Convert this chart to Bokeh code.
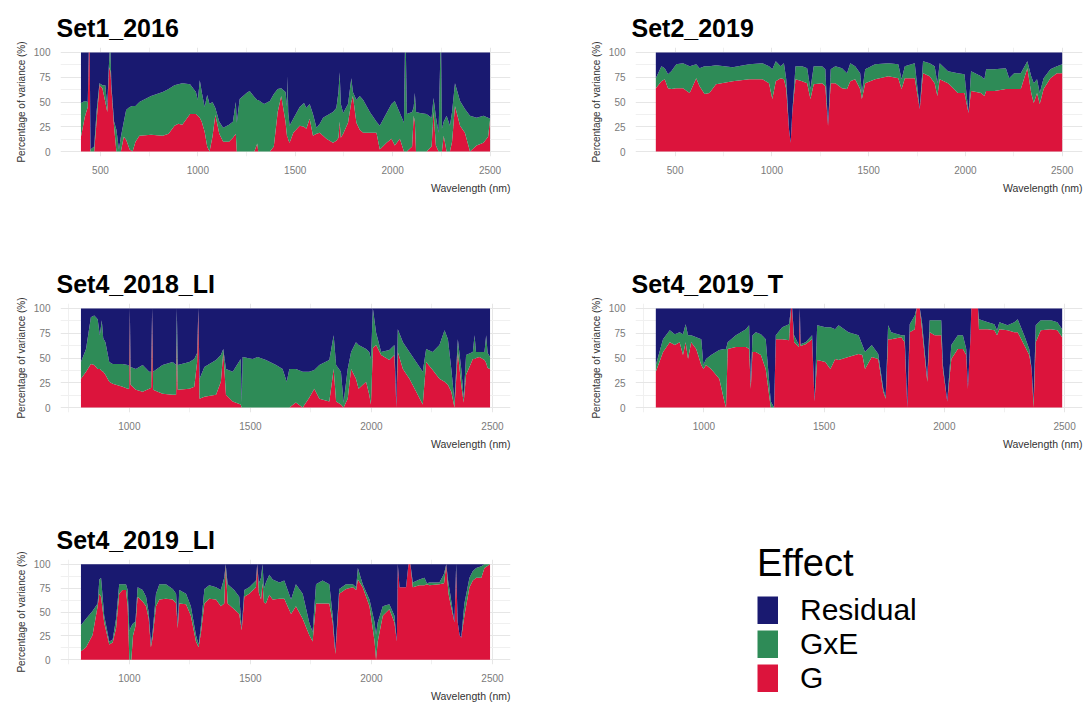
from bokeh.plotting import figure
from bokeh.layouts import row, column
from bokeh.models import ColumnDataSource, FixedTicker, Title, Legend, LegendItem, Range1d
from bokeh.embed import file_html
from bokeh.resources import INLINE

# ---------------- data (percentage of variance) ----------------
effects = ["G", "GxE", "Residual"]
effect_colors = ["#DC143C", "#2E8B57", "#191970"]
legend_order = ["Residual", "GxE", "G"]

set1_wl = [400, 420, 435, 440, 445, 449, 468, 480, 495, 510,
           525, 535, 543, 547, 552, 556, 570, 582, 595, 605,
           620, 632, 650, 665, 680, 700, 760, 820, 850, 880,
           900, 920, 960, 990, 1000, 1010, 1020, 1035, 1048, 1060,
           1075, 1090, 1110, 1130, 1160, 1180, 1195, 1200, 1215, 1250,
           1266, 1290, 1305, 1310, 1340, 1370, 1390, 1410, 1428, 1450,
           1458, 1461, 1464, 1471, 1490, 1523, 1545, 1557, 1574, 1591,
           1609, 1626, 1643, 1660, 1694, 1711, 1722, 1728, 1734, 1746,
           1771, 1788, 1796, 1814, 1831, 1849, 1866, 1883, 1917, 1934,
           1969, 1994, 2011, 2037, 2058, 2063, 2068, 2073, 2100, 2108,
           2114, 2120, 2140, 2174, 2200, 2210, 2222, 2236, 2245, 2249,
           2253, 2262, 2277, 2294, 2305, 2320, 2346, 2371, 2397, 2431,
           2466, 2490, 2500]
set1_g = [15, 35, 45, 100, 100, 0, 0, 30, 67, 64,
          50, 40, 80, 85, 80, 65, 25, 0, 0, 0,
          15, 12, 2, 0, 10, 16, 17, 16, 18, 26,
          28, 27, 38, 38, 36, 34, 30, 20, 5, 0,
          15, 37, 18, 10, 10, 14, 18, 0, 0, 0,
          0, 0, 8, 0, 0, 0, 5, 40, 56, 30,
          15, 15, 12, 9, 19, 26, 25, 23, 33, 16,
          18, 19, 16, 13, 9, 11, 14, 30, 14, 18,
          29, 50, 56, 29, 22, 19, 19, 19, 19, 2,
          9, 13, 6, 13, 0, 0, 0, 0, 5, 36,
          30, 0, 0, 0, 5, 40, 6, 0, 0, 0,
          0, 16, 0, 0, 10, 46, 26, 19, 0, 6,
          9, 15, 32]
set1_gxe = [34, 16, 5, 0, 0, 2, 5, 10, 2, 3,
            17, 5, 5, 15, 20, 3, 5, 22, 2, 15,
            15, 30, 43, 46, 36, 34, 39, 44, 45, 41,
            40, 42, 30, 22, 16, 38, 30, 25, 52, 48,
            35, 7, 12, 14, 17, 16, 32, 29, 53, 59,
            61, 55, 44, 52, 48, 51, 53, 23, 8, 30,
            30, 61, 28, 17, 14, 19, 24, 21, 15, 22,
            6, 9, 18, 23, 31, 33, 46, 50, 34, 21,
            19, 24, 4, 23, 34, 33, 27, 21, 11, 24,
            30, 35, 45, 26, 29, 100, 100, 38, 35, 9,
            29, 40, 39, 38, 29, 14, 29, 19, 100, 100,
            23, 14, 36, 26, 30, 23, 25, 24, 36, 28,
            27, 19, 1]

set2_wl = [400, 429, 446, 463, 480, 506, 540, 575, 609, 626,
           652, 677, 711, 797, 883, 951, 985, 1002, 1020, 1045,
           1062, 1074, 1088, 1097, 1105, 1122, 1156, 1182, 1199, 1216,
           1259, 1276, 1290, 1304, 1328, 1362, 1388, 1405, 1430, 1456,
           1465, 1482, 1533, 1602, 1653, 1670, 1687, 1738, 1764, 1781,
           1815, 1841, 1855, 1867, 1910, 1961, 1995, 2016, 2029, 2081,
           2098, 2107, 2150, 2209, 2226, 2252, 2286, 2320, 2340, 2353,
           2370, 2384, 2404, 2439, 2473, 2500]
set2_g = [64, 71, 73, 64, 63, 64, 64, 59, 74, 66,
          58, 59, 68, 71, 73, 73, 69, 53, 71, 74,
          73, 63, 23, 9, 39, 73, 71, 69, 53, 68,
          69, 66, 26, 69, 69, 64, 63, 71, 73, 63,
          53, 69, 73, 76, 74, 63, 74, 74, 43, 79,
          76, 69, 56, 73, 69, 59, 59, 39, 61, 59,
          56, 61, 61, 63, 63, 63, 63, 84, 59, 49,
          59, 48, 63, 74, 79, 79]
set2_gxe = [10, 15, 11, 14, 18, 24, 25, 27, 14, 18,
            28, 27, 19, 14, 15, 16, 17, 30, 20, 12,
            16, 10, 0, 0, 0, 13, 15, 15, 10, 18,
            17, 17, 0, 14, 17, 20, 16, 18, 13, 16,
            6, 14, 15, 13, 14, 10, 12, 15, 0, 12,
            13, 17, 13, 16, 12, 20, 19, 0, 20, 17,
            17, 22, 22, 21, 11, 16, 16, 7, 17, 20,
            14, 11, 11, 9, 7, 9]

set4_2018_li_wl = [800, 821, 841, 855, 869, 878, 886, 892, 901, 917,
                   931, 972, 993, 999, 1002, 1005, 1027, 1055, 1082, 1090,
                   1094, 1098, 1137, 1179, 1193, 1196, 1200, 1248, 1268, 1280,
                   1285, 1290, 1310, 1358, 1378, 1388, 1399, 1427, 1460, 1464,
                   1468, 1509, 1530, 1564, 1606, 1633, 1650, 1661, 1688, 1716,
                   1743, 1764, 1785, 1826, 1844, 1854, 1874, 1885, 1902, 1916,
                   1936, 1947, 1978, 1991, 1998, 2006, 2019, 2040, 2074, 2095,
                   2103, 2109, 2130, 2157, 2185, 2212, 2226, 2253, 2281, 2302,
                   2316, 2330, 2343, 2357, 2371, 2381, 2391, 2419, 2426, 2432,
                   2446, 2467, 2474, 2480, 2490]
set4_2018_li_g = [29, 36, 44, 43, 39, 39, 37, 36, 33, 26,
                  24, 21, 19, 19, 100, 23, 18, 16, 19, 20,
                  100, 18, 14, 13, 13, 70, 18, 19, 21, 46,
                  100, 9, 11, 13, 26, 56, 13, 6, 3, 0,
                  0, 0, 0, 0, 0, 0, 0, 0, 5, 0,
                  10, 19, 9, 6, 39, 6, 3, 0, 9, 39,
                  29, 19, 26, 13, 3, 60, 63, 53, 48, 53,
                  0, 56, 39, 29, 16, 3, 46, 38, 29, 26,
                  23, 16, 0, 56, 23, 5, 33, 49, 49, 50,
                  51, 48, 45, 40, 39]
set4_2018_li_gxe = [17, 23, 47, 50, 50, 34, 51, 34, 33, 20,
                    20, 23, 24, 23, 0, 18, 21, 27, 17, 16,
                    0, 18, 29, 33, 30, 30, 25, 27, 28, 9,
                    0, 20, 30, 35, 27, 3, 26, 30, 46, 5,
                    51, 49, 51, 48, 43, 39, 26, 39, 34, 36,
                    26, 19, 34, 42, 34, 37, 33, 5, 30, 17,
                    37, 44, 33, 43, 46, 40, 13, 3, 10, 10,
                    0, 23, 27, 27, 30, 33, 13, 18, 34, 52,
                    46, 23, 6, 13, 16, 5, 20, 7, 24, 6,
                    5, 8, 28, 15, 12]

set4_2019_t_wl = [800, 830, 858, 879, 899, 913, 924, 934, 947, 968,
                  989, 998, 1009, 1030, 1064, 1085, 1092, 1099, 1133, 1175,
                  1188, 1195, 1202, 1216, 1237, 1257, 1278, 1292, 1299, 1326,
                  1354, 1362, 1367, 1375, 1395, 1399, 1402, 1423, 1450, 1460,
                  1471, 1505, 1526, 1546, 1560, 1601, 1643, 1659, 1670, 1698,
                  1725, 1746, 1756, 1766, 1779, 1821, 1835, 1846, 1856, 1877,
                  1884, 1898, 1907, 1929, 1939, 1960, 1987, 1994, 2012, 2029,
                  2056, 2077, 2091, 2098, 2109, 2112, 2140, 2144, 2181, 2208,
                  2219, 2229, 2263, 2291, 2305, 2332, 2353, 2363, 2371, 2380,
                  2401, 2443, 2470, 2490]
set4_2019_t_g = [36, 56, 66, 63, 66, 53, 66, 49, 66, 59,
                 43, 39, 43, 39, 29, 6, 0, 59, 61, 61,
                 59, 19, 56, 56, 53, 39, 0, 0, 69, 69,
                 68, 100, 100, 66, 61, 100, 62, 64, 69, 6,
                 48, 46, 39, 49, 48, 51, 54, 53, 39, 51,
                 49, 16, 9, 69, 69, 71, 66, 0, 76, 79,
                 100, 100, 79, 26, 76, 73, 73, 39, 6, 49,
                 59, 59, 53, 19, 73, 100, 100, 79, 79, 78,
                 73, 79, 78, 76, 76, 63, 53, 39, 0, 66,
                 78, 79, 78, 71]
set4_2019_t_gxe = [7, 13, 12, 11, 10, 21, 18, 24, 7, 12,
                   26, 4, 6, 14, 29, 53, 59, 7, 12, 18,
                   24, 4, 17, 20, 21, 30, 6, 0, 4, 12,
                   16, 0, 0, 7, 2, 0, 2, 2, 4, 0,
                   35, 35, 42, 30, 35, 25, 19, 10, 17, 12,
                   5, 3, 2, 14, 7, 2, 7, 0, 8, 14,
                   0, 0, 7, 3, 12, 15, 15, 4, 0, 14,
                   14, 14, 6, 0, 0, 0, 0, 10, 7, 6,
                   5, 7, 5, 10, 13, 10, 6, 0, 6, 17,
                   10, 9, 8, 8]

set4_2019_li_wl = [800, 821, 848, 869, 876, 883, 896, 917, 931, 945,
                   958, 972, 986, 993, 1000, 1008, 1015, 1025, 1034, 1055,
                   1069, 1080, 1089, 1096, 1110, 1124, 1151, 1179, 1193, 1200,
                   1206, 1234, 1254, 1275, 1286, 1296, 1310, 1330, 1358, 1378,
                   1392, 1398, 1406, 1433, 1454, 1464, 1475, 1495, 1523, 1528,
                   1535, 1544, 1550, 1556, 1564, 1578, 1592, 1620, 1640, 1668,
                   1688, 1716, 1743, 1757, 1771, 1798, 1826, 1840, 1851, 1867,
                   1895, 1923, 1937, 1944, 1964, 1992, 2013, 2019, 2026, 2047,
                   2074, 2095, 2105, 2109, 2116, 2143, 2153, 2161, 2171, 2198,
                   2219, 2229, 2240, 2281, 2300, 2309, 2318, 2323, 2343, 2350,
                   2356, 2364, 2371, 2384, 2405, 2419, 2433, 2454, 2467, 2490]
set4_2019_li_g = [9, 13, 26, 56, 69, 66, 39, 16, 18, 33,
                  69, 73, 73, 56, 0, 0, 25, 35, 66, 61,
                  56, 43, 13, 23, 56, 63, 64, 63, 59, 33,
                  59, 58, 46, 19, 13, 29, 59, 64, 63, 56,
                  59, 100, 59, 53, 48, 31, 66, 69, 76, 100,
                  70, 63, 80, 60, 59, 68, 63, 64, 64, 48,
                  56, 43, 26, 19, 59, 59, 59, 39, 6, 69,
                  74, 76, 73, 84, 76, 56, 19, 0, 19, 46,
                  53, 39, 19, 100, 76, 76, 100, 100, 76, 78,
                  78, 79, 78, 79, 80, 100, 70, 63, 39, 95,
                  40, 26, 23, 46, 76, 83, 86, 86, 96, 100]
set4_2019_li_gxe = [27, 30, 25, 3, 15, 20, 7, 3, 3, 10,
                    10, 6, 6, 17, 30, 35, 13, 5, 10, 12,
                    10, 6, 3, 6, 13, 16, 15, 11, 10, 3,
                    14, 11, 10, 7, 3, 7, 15, 14, 13, 17,
                    27, 0, 20, 20, 18, 2, 7, 7, 7, 0,
                    10, 23, 20, 15, 22, 21, 21, 17, 19, 15,
                    23, 26, 13, 10, 20, 24, 20, 7, 3, 5,
                    5, 3, 3, 12, 3, 7, 20, 26, 20, 10,
                    5, 7, 0, 0, 0, 0, 0, 0, 5, 6,
                    8, 1, 3, 2, 10, 0, 10, 10, 0, 5,
                    0, 0, 0, 13, 10, 10, 10, 12, 4, 0]

wide_ticks = [500, 1000, 1500, 2000, 2500]
narrow_ticks = [1000, 1500, 2000, 2500]
minor_x = [750, 1250, 1750, 2250]
y_ticks = [0, 25, 50, 75, 100]
y_minor = [12.5, 37.5, 62.5, 87.5]

FONT = "Liberation Sans"
LEFT = 60
TOP = 47
FRAME_H = 109


def panel(name, wl, g, gxe, xticks, width, height, frame_w, bottom):
    res = [100 - a - b for a, b in zip(g, gxe)]
    src = ColumnDataSource(dict(wl=wl, G=g, GxE=gxe, Residual=res))
    lo, hi = min(wl), max(wl)
    pad = 0.05 * (hi - lo)
    p = figure(width=width, height=height,
               x_range=Range1d(lo - pad, hi + pad), y_range=Range1d(-5, 105),
               output_backend="svg", toolbar_location=None,
               min_border_left=LEFT, min_border_right=width - LEFT - frame_w,
               min_border_top=TOP, min_border_bottom=bottom)
    p.varea_stack(stackers=effects, x="wl", color=effect_colors, source=src)

    p.title.text = name
    p.title.text_font = FONT
    p.title.text_font_size = "25px"
    p.title.text_font_style = "bold"
    p.title.text_color = "#000000"
    p.title.align = "left"
    p.title.offset = -4
    p.title.standoff = 12

    p.outline_line_color = None
    p.background_fill_color = "white"

    p.xaxis.ticker = FixedTicker(ticks=xticks, minor_ticks=minor_x)
    p.yaxis.ticker = FixedTicker(ticks=y_ticks, minor_ticks=y_minor)
    for ax in (p.xaxis, p.yaxis):
        ax.axis_line_color = None
        ax.major_tick_line_color = None
        ax.minor_tick_line_color = None
        ax.major_tick_out = 0
        ax.major_tick_in = 0
        ax.minor_tick_out = 0
        ax.minor_tick_in = 0
        ax.major_label_text_font = FONT
        ax.major_label_text_font_size = "10px"
        ax.major_label_text_color = "#7a7a7a"
    p.xaxis.major_label_standoff = 9
    p.yaxis.major_label_standoff = 10
    p.yaxis.axis_label = "Percentage of variance (%)"
    p.yaxis.axis_label_text_font = FONT
    p.yaxis.axis_label_text_font_size = "10px"
    p.yaxis.axis_label_text_font_style = "normal"
    p.yaxis.axis_label_text_color = "#333333"
    p.yaxis.axis_label_standoff = 4

    p.xgrid.grid_line_color = "#e6e6e6"
    p.ygrid.grid_line_color = "#e6e6e6"
    p.xgrid.minor_grid_line_color = "#f0f0f0"
    p.ygrid.minor_grid_line_color = "#f0f0f0"

    p.add_layout(Title(text="Wavelength (nm)", align="right", text_font=FONT,
                       text_font_size="10.5px", text_font_style="normal",
                       text_color="#333333", standoff=6), "below")
    return p


W1, W2 = 575, 512
H, H3 = 256, 192

p1 = panel("Set1_2016", set1_wl, set1_g, set1_gxe, wide_ticks, W1, H, 450, H - TOP - FRAME_H)
p2 = panel("Set2_2019", set2_wl, set2_g, set2_gxe, wide_ticks, W2, H, 447, H - TOP - FRAME_H)
p3 = panel("Set4_2018_LI", set4_2018_li_wl, set4_2018_li_g, set4_2018_li_gxe, narrow_ticks, W1, H, 450, H - TOP - FRAME_H)
p4 = panel("Set4_2019_T", set4_2019_t_wl, set4_2019_t_g, set4_2019_t_gxe, narrow_ticks, W2, H, 447, H - TOP - FRAME_H)
p5 = panel("Set4_2019_LI", set4_2019_li_wl, set4_2019_li_g, set4_2019_li_gxe, narrow_ticks, W1, H3, 450, H3 - TOP - FRAME_H)

# legend panel (frame covers the legend area)
leg = figure(width=W2, height=H3, x_range=Range1d(0, 1), y_range=Range1d(0, 1),
             output_backend="svg", toolbar_location=None,
             x_axis_location=None, y_axis_location=None,
             min_border_left=LEFT, min_border_top=20, min_border_right=0, min_border_bottom=0)
leg.grid.visible = False
leg.outline_line_color = None
items = []
for name in legend_order:
    col = effect_colors[effects.index(name)]
    r = leg.line(x=[0, 0], y=[0, 0], line_color=col, line_width=28, line_cap="butt")
    items.append(LegendItem(label=name, renderers=[r]))
legend = Legend(items=items, title="Effect", location=(122, 9),
                padding=0, margin=0, spacing=0,
                glyph_width=21, glyph_height=28, label_height=28,
                label_standoff=22, label_text_font=FONT, label_text_font_size="30px",
                label_text_color="#000000",
                title_text_font=FONT, title_text_font_size="38px",
                title_text_font_style="normal", title_text_color="#000000",
                title_standoff=8,
                border_line_color=None, background_fill_alpha=0)
leg.add_layout(legend)

layout = row(column(p1, p3, p5), column(p2, p4, leg))
open("out.html", "w").write(file_html(layout, INLINE))
